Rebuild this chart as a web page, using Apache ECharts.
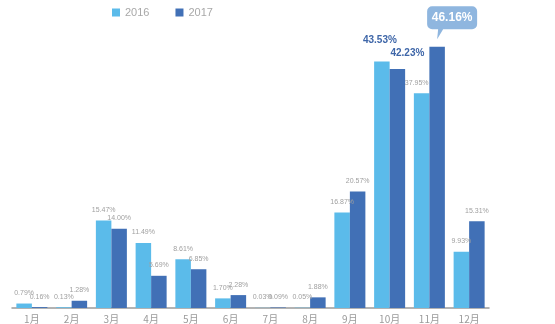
<!DOCTYPE html>
<html><head><meta charset="utf-8">
<script src="https://cdn.jsdelivr.net/npm/echarts@6/dist/echarts.min.js"></script>
<style>html,body{margin:0;padding:0;background:#fff}#c{width:555px;height:324px}</style>
</head><body><div id="c"></div>
<script>
const categories = ['1月','2月','3月','4月','5月','6月','7月','8月','9月','10月','11月','12月'];
const series2016 = [0.79, 0.13, 15.47, 11.49, 8.61, 1.70, 0.03, 0.05, 16.87, 43.53, 37.95, 9.93];
const series2017 = [0.16, 1.28, 14.00, 5.69, 6.85, 2.28, 0.09, 1.88, 20.57, 42.23, 46.16, 15.31];
const seriesNames = ['2016', '2017'];

const C16 = '#5bbbea', C17 = '#4170b6';
const smallLabel = {show:true, position:'top', distance:7, fontSize:7, color:'#a0a0a0', fontFamily:'Liberation Sans',
  formatter: p => p.value.toFixed(2) + '%'};
const boldLabel = {show:true, position:'top', fontSize:10, fontWeight:'bold', color:'#3e66a8', fontFamily:'Liberation Sans',
  formatter: p => p.value.toFixed(2) + '%'};

function build(vals, which) {
  return vals.map((v, i) => {
    const item = {value: v};
    if (categories[i] === '10月') item.label = Object.assign({}, boldLabel, which === 0 ? {offset:[-2,-9]} : {offset:[10,-4]});
    if (categories[i] === '11月' && which === 0) item.label = Object.assign({}, smallLabel, {offset:[-5, 0]});
    if (categories[i] === '11月' && which === 1) item.label = {show:false};
    return item;
  });
}
const maxIdx = series2017.indexOf(Math.max(...series2017));

const chart = echarts.init(document.getElementById('c'), null, {renderer:'canvas'});
chart.setOption({
  animation:false,
  backgroundColor:'#fff',
  legend:{top:2, left:107, itemWidth:8, itemHeight:8, itemGap:26, icon:'rect',
    textStyle:{color:'#a8a8a8', fontSize:11, fontFamily:'Liberation Sans'}},
  grid:{left:12, right:66, top:25, bottom:16, containLabel:false},
  xAxis:{type:'category', data:categories,
    axisLine:{lineStyle:{color:'#9a9a9a', width:1.5}}, axisTick:{show:false},
    axisLabel:{color:'#9a9a9a', fontSize:10, margin:6, fontFamily:'Noto Sans CJK SC'}},
  yAxis:{type:'value', min:0, max:50, show:false, splitLine:{show:false}},
  series:[
    {name:seriesNames[0], type:'bar', data:build(series2016,0), itemStyle:{color:C16},
      barWidth:'39%', barGap:'0%', label:smallLabel},
    {name:seriesNames[1], type:'bar', data:build(series2017,1), itemStyle:{color:C17},
      barWidth:'39%', barGap:'0%', label:smallLabel,
      markPoint:{
        data:[{coord:[categories[maxIdx], series2017[maxIdx]], value:series2017[maxIdx]}],
        symbol:'path://M5,0 H45 A5,5 0 0 1 50,5 V18 A5,5 0 0 1 45,23 H16 L10,33 L11,23 H5 A5,5 0 0 1 0,18 V5 A5,5 0 0 1 5,0 Z',
        symbolSize:[50,33], symbolKeepAspect:false, symbolOffset:[15,-24],
        itemStyle:{color:'#8fb6df'},
        label:{show:true, color:'#fff', fontWeight:'bold', fontSize:12, fontFamily:'Liberation Sans', offset:[0,-5],
          formatter: p => p.value.toFixed(2) + '%'}
      }}
  ]
});
</script></body></html>
